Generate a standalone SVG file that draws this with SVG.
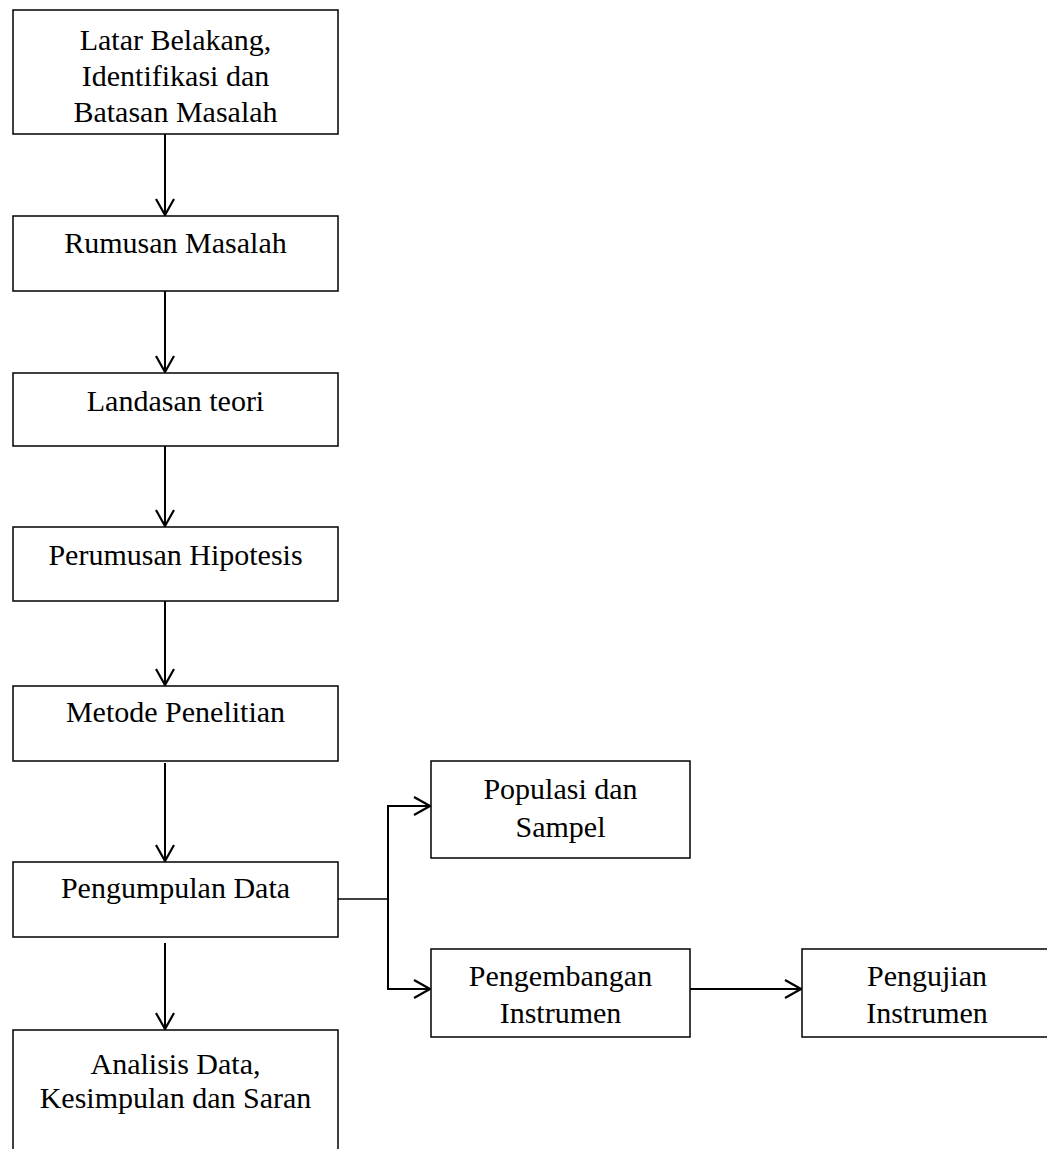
<svg xmlns="http://www.w3.org/2000/svg" width="1047" height="1149" viewBox="0 0 1047 1149">
<defs>
<style>
.box{fill:#fff;stroke:#000;stroke-width:1.5}
.t{font-family:"Liberation Serif","Times New Roman",serif;font-size:30px;fill:#000;text-anchor:middle}
.c{fill:none;stroke:#000;stroke-width:2}
</style>
<marker id="ah" viewBox="0 0 18 20" refX="17" refY="10" markerWidth="18" markerHeight="20" markerUnits="userSpaceOnUse" orient="auto">
<path d="M1,1 L17,10 L1,19" fill="none" stroke="#000" stroke-width="2.2"/>
</marker>
</defs>
<rect width="1047" height="1149" fill="#fff"/>
<g id="n1"><rect class="box" x="13" y="10" width="325" height="124"/>
<text class="t" x="175.5" y="50">Latar Belakang,</text>
<text class="t" x="175.5" y="86">Identifikasi dan</text>
<text class="t" x="175.5" y="122">Batasan Masalah</text></g>
<g id="n2"><rect class="box" x="13" y="216" width="325" height="75"/>
<text class="t" x="175.5" y="253">Rumusan Masalah</text></g>
<g id="n3"><rect class="box" x="13" y="373" width="325" height="73"/>
<text class="t" x="175.5" y="411">Landasan teori</text></g>
<g id="n4"><rect class="box" x="13" y="527" width="325" height="74"/>
<text class="t" x="175.5" y="565">Perumusan Hipotesis</text></g>
<g id="n5"><rect class="box" x="13" y="686" width="325" height="75"/>
<text class="t" x="175.5" y="722">Metode Penelitian</text></g>
<g id="n6"><rect class="box" x="13" y="862" width="325" height="75"/>
<text class="t" x="175.5" y="898">Pengumpulan Data</text></g>
<g id="n7"><rect class="box" x="13" y="1030" width="325" height="130"/>
<text class="t" x="175.5" y="1074">Analisis Data,</text>
<text class="t" x="175.5" y="1108">Kesimpulan dan Saran</text></g>
<g id="n8"><rect class="box" x="431" y="761" width="259" height="97"/>
<text class="t" x="560.5" y="799">Populasi dan</text>
<text class="t" x="560.5" y="837">Sampel</text></g>
<g id="n9"><rect class="box" x="431" y="949" width="259" height="88"/>
<text class="t" x="560.5" y="986">Pengembangan</text>
<text class="t" x="560.5" y="1023">Instrumen</text></g>
<g id="n10"><rect class="box" x="802" y="949" width="260" height="88"/>
<text class="t" x="927" y="986">Pengujian</text>
<text class="t" x="927" y="1023">Instrumen</text></g>
<g id="connectors">
<line class="c" x1="165" y1="134" x2="165" y2="215" marker-end="url(#ah)"/>
<line class="c" x1="165" y1="291" x2="165" y2="372" marker-end="url(#ah)"/>
<line class="c" x1="165" y1="446" x2="165" y2="526" marker-end="url(#ah)"/>
<line class="c" x1="165" y1="601" x2="165" y2="685" marker-end="url(#ah)"/>
<line class="c" x1="165" y1="763" x2="165" y2="861" marker-end="url(#ah)"/>
<line class="c" x1="165" y1="943" x2="165" y2="1029" marker-end="url(#ah)"/>
<polyline class="c" points="338,899 388,899" style="stroke-width:1.5"/>
<polyline class="c" points="388,899 388,806 430,806" marker-end="url(#ah)"/>
<polyline class="c" points="388,899 388,989 430,989" marker-end="url(#ah)"/>
<line class="c" x1="690" y1="989" x2="801" y2="989" marker-end="url(#ah)"/>
</g>
</svg>
